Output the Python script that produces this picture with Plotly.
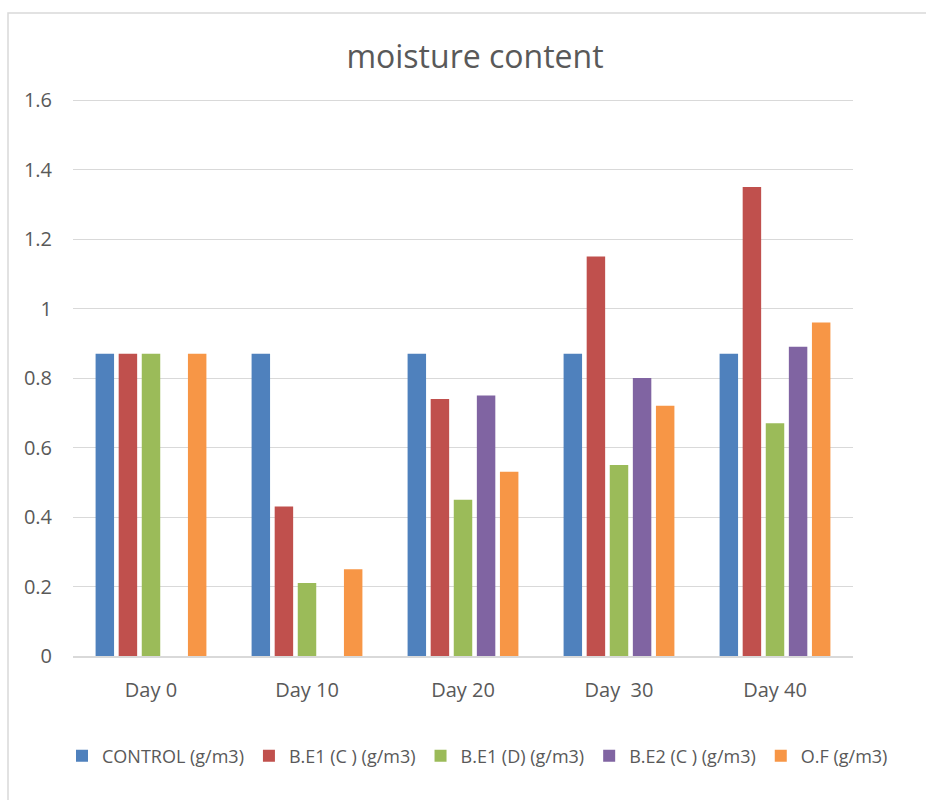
import plotly.graph_objects as go

categories = ["Day 0", "Day 10", "Day 20", "Day  30", "Day 40"]
series_names = ["CONTROL (g/m3)", "B.E1 (C ) (g/m3)", "B.E1 (D) (g/m3)", "B.E2 (C ) (g/m3)", "O.F (g/m3)"]
control = [0.87, 0.87, 0.87, 0.87, 0.87]
be1_c = [0.87, 0.43, 0.74, 1.15, 1.35]
be1_d = [0.87, 0.21, 0.45, 0.55, 0.67]
be2_c = [None, None, 0.75, 0.80, 0.89]
of = [0.87, 0.25, 0.53, 0.72, 0.96]
colors = ["#4f81bd", "#c0504d", "#9bbb59", "#8064a2", "#f79646"]
y_ticks = [0, 0.2, 0.4, 0.6, 0.8, 1, 1.2, 1.4, 1.6]
y_labels = ["0", "0.2", "0.4", "0.6", "0.8", "1", "1.2", "1.4", "1.6"]

fig = go.Figure()
for name, vals, col in zip(series_names, [control, be1_c, be1_d, be2_c, of], colors):
    fig.add_trace(go.Bar(x=categories, y=vals, name=name, marker=dict(color=col, line=dict(width=0))))

W, H = 926, 800
L, R, T, B = 73, 73, 98, 144
pw, ph = W - L - R, H - T - B
font_family = "Open Sans, Arial"

fig.update_layout(
    width=W, height=H,
    margin=dict(l=L, r=R, t=T, b=B, pad=0),
    paper_bgcolor="white", plot_bgcolor="white",
    barmode="group", bargap=0.26, bargroupgap=0.2,
    font=dict(family=font_family, color="#595959", size=18),
    title=dict(text="moisture content", x=475 / W, xanchor="center", y=1 - 57 / H, yanchor="middle",
               font=dict(size=32, color="#595959", family=font_family)),
    legend=dict(orientation="h", x=(62 - L) / pw, xanchor="left",
                y=-(756 - 656) / ph, yanchor="middle",
                font=dict(size=18, color="#595959"), itemwidth=30, tracegroupgap=0),
    xaxis=dict(showgrid=False, showline=True, linecolor="#d9d9d9", linewidth=1.5,
               ticks="", ticklabelstandoff=15, tickfont=dict(size=20, color="#595959")),
    yaxis=dict(range=[0, 1.606], tickvals=y_ticks, ticktext=y_labels, showgrid=True,
               gridcolor="#d9d9d9", gridwidth=1, zeroline=False, showline=False,
               ticks="", ticklabelstandoff=20, tickfont=dict(size=20, color="#595959")),
    shapes=[dict(type="rect", xref="paper", yref="paper",
                 x0=(8 - L) / pw, x1=(940 - L) / pw, y0=-(820 - 656) / ph, y1=(656 - 13) / ph,
                 line=dict(color="#d9d9d9", width=1.5), fillcolor="rgba(0,0,0,0)", layer="below")],
)

fig.write_html("out.html", config={"displayModeBar": False},
               post_script="document.body.style.margin='0';document.body.style.overflow='hidden';")
